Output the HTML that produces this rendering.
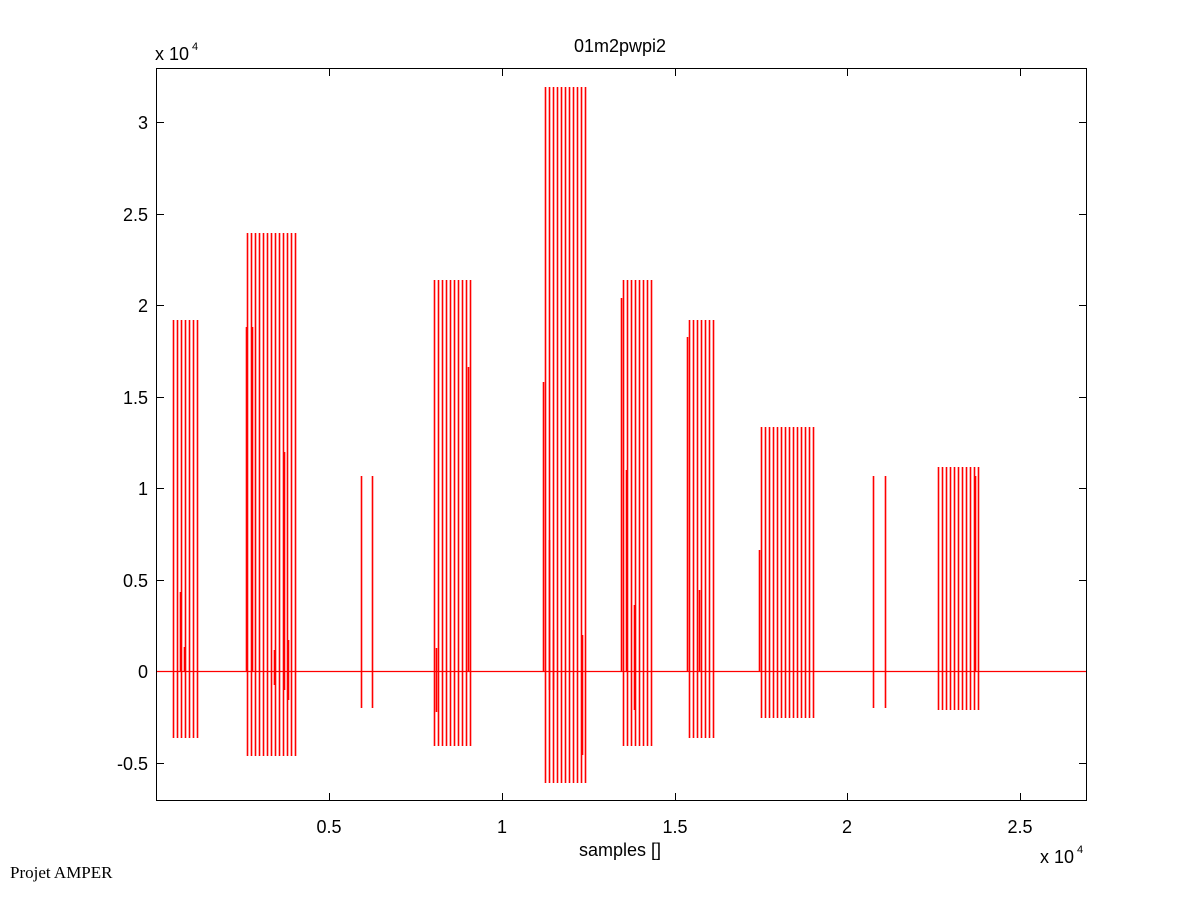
<!DOCTYPE html>
<html><head><meta charset="utf-8"><style>
html,body{margin:0;padding:0;background:#fff;}
text{font-family:"Liberation Sans",Arial,sans-serif;}
</style></head><body>
<svg width="1201" height="901" xmlns="http://www.w3.org/2000/svg">
<rect width="1201" height="901" fill="#fff"/>
<g fill="none" stroke="#ff0000" stroke-width="1.6">
<path d="M173.5 320V738M177.5 320V738M181.5 320V738M185.5 320V738M189.5 320V738M193.5 320V738M197.5 320V738"/>
<path d="M247.5 233V756M251.5 233V756M255.5 233V756M259.5 233V756M263.5 233V756M267.5 233V756M271.5 233V756M275.5 233V756M279.5 233V756M283.5 233V756M287.5 233V756M291.5 233V756M295.5 233V756"/>
<path d="M361.5 476V708M372.5 476V708"/>
<path d="M434.5 280V746M438.5 280V746M442.5 280V746M446.5 280V746M450.5 280V746M454.5 280V746M458.5 280V746M462.5 280V746M466.5 280V746M470.5 280V746"/>
<path d="M545.5 87V783M549.5 87V783M553.5 87V783M557.5 87V783M561.5 87V783M565.5 87V783M569.5 87V783M573.5 87V783M577.5 87V783M581.5 87V783M585.5 87V783"/>
<path d="M623.5 280V746M627.5 280V746M631.5 280V746M635.5 280V746M639.5 280V746M643.5 280V746M647.5 280V746M651.5 280V746"/>
<path d="M689.5 320V738M693.5 320V738M697.5 320V738M701.5 320V738M705.5 320V738M709.5 320V738M713.5 320V738"/>
<path d="M761.5 427V718M765.5 427V718M769.5 427V718M773.5 427V718M777.5 427V718M781.5 427V718M785.5 427V718M789.5 427V718M793.5 427V718M797.5 427V718M801.5 427V718M805.5 427V718M809.5 427V718M813.5 427V718"/>
<path d="M873.5 476V708M885.5 476V708"/>
<path d="M938.5 467V710M942.5 467V710M946.5 467V710M950.5 467V710M954.5 467V710M958.5 467V710M962.5 467V710M966.5 467V710M970.5 467V710M974.5 467V710M978.5 467V710"/>
<path d="M180.5 592V671M184.5 647V671M246.5 327V671M252.5 327V671M284.5 452V690M543.5 382V671M549.5 540V690M468.5 367V671M621.5 298V671M626.5 470V671M634.5 605V710M687.5 337V671M699.5 590V671M759.5 550V671M975.5 476V671M436.5 648V712M288.5 640V700M553.5 630V690M582.5 635V755M274.5 650V685"/>
<path stroke-width="1.3" d="M157 671.5H1086"/>
</g>
<rect x="156.5" y="68.5" width="930" height="732" fill="none" stroke="#000" stroke-width="1"/>
<path fill="none" stroke="#000" stroke-width="1" d="M329.5 801V793M502.5 801V793M675.5 801V793M847.5 801V793M1020.5 801V793M329.5 68V76M502.5 68V76M675.5 68V76M847.5 68V76M1020.5 68V76M156 580.5H164M156 488.5H164M156 397.5H164M156 305.5H164M156 214.5H164M156 122.5H164M156 763.5H164M1087 580.5H1079M1087 488.5H1079M1087 397.5H1079M1087 305.5H1079M1087 214.5H1079M1087 122.5H1079M1087 763.5H1079"/>
<g font-size="18" fill="#000">
<text x="620" y="52" text-anchor="middle">01m2pwpi2</text>
<text x="155" y="60">x 10</text><text x="192" y="50" font-size="11">4</text>
<text x="1040" y="863">x 10</text><text x="1077" y="853" font-size="11">4</text>
<text x="620" y="856" text-anchor="middle">samples []</text>
<g text-anchor="middle">
<text x="329" y="833">0.5</text><text x="502" y="833">1</text><text x="675" y="833">1.5</text><text x="847" y="833">2</text><text x="1020" y="833">2.5</text>
</g>
<g text-anchor="end">
<text x="148" y="678">0</text><text x="148" y="587">0.5</text><text x="148" y="495">1</text><text x="148" y="404">1.5</text><text x="148" y="312">2</text><text x="148" y="221">2.5</text><text x="148" y="129">3</text><text x="148" y="770">-0.5</text>
</g>
</g>
<text x="10" y="878" font-size="17" style="font-family:'Liberation Serif',serif">Projet AMPER</text>
</svg>
</body></html>
